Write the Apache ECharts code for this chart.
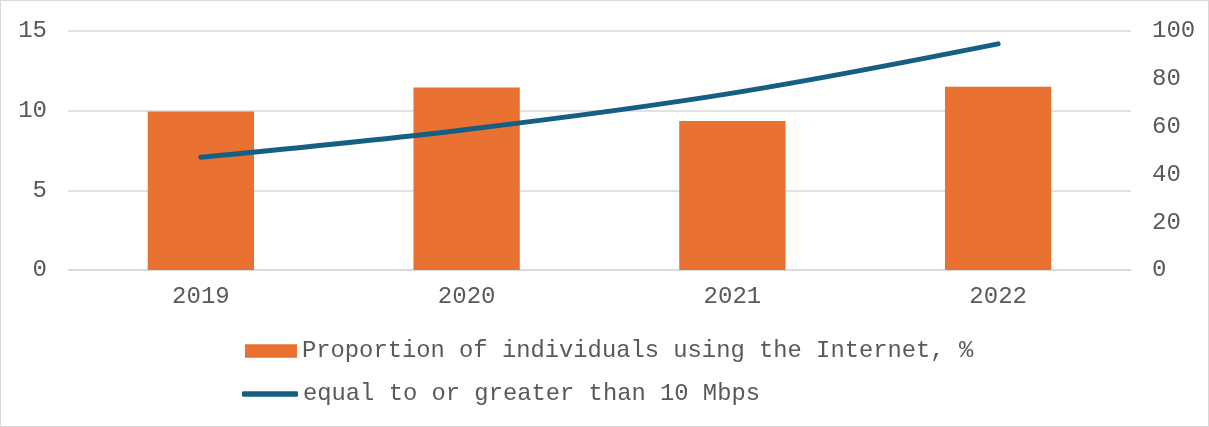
<!DOCTYPE html>
<html>
<head>
<meta charset="utf-8">
<script src="https://cdn.jsdelivr.net/npm/echarts@6/dist/echarts.min.js"></script>
<style>
  html, body { margin: 0; padding: 0; background: #fff; }
  #chart { width: 1209px; height: 427px; box-sizing: border-box; border: 1.5px solid #d9d9d9; }
</style>
</head>
<body>
<div id="chart"></div>
<script>
const categories = ['2019', '2020', '2021', '2022'];
const proportionUsingInternet = [9.95, 11.45, 9.35, 11.5];
const atLeast10Mbps = [47.2, 58.8, 74, 94.6];
const leftTicks = { min: 0, max: 15, interval: 5 };
const rightTicks = { min: 0, max: 100, interval: 20 };
const seriesNames = ['Proportion of individuals using the Internet, %', 'equal to or greater than 10 Mbps'];

const font = 'Liberation Mono, Courier New, monospace';
const textColor = '#595959';
const fs = 24;
const chart = echarts.init(document.getElementById('chart'), null, { renderer: 'canvas' });
chart.setOption({
  animation: false,
  textStyle: { fontFamily: font },
  grid: { left: 67, right: 77, top: 30, bottom: 156 },
  legend: [
    {
      left: 244, top: 338, padding: 0,
      itemWidth: 52, itemHeight: 13.5,
      textStyle: { fontFamily: font, fontSize: 23.8, color: textColor },
      data: [{ name: seriesNames[0], icon: 'rect' }]
    },
    {
      left: 241, top: 381, padding: 0,
      itemWidth: 56, itemHeight: 5.5,
      textStyle: { fontFamily: font, fontSize: 23.8, color: textColor },
      data: [{ name: seriesNames[1], icon: 'roundRect', itemStyle: { color: '#156082' } }]
    }
  ],
  xAxis: {
    type: 'category',
    data: categories,
    axisLine: { show: true, lineStyle: { color: '#d9d9d9', width: 1.5 } },
    axisTick: { show: false },
    axisLabel: { fontFamily: font, fontSize: fs, color: textColor, margin: 15 }
  },
  yAxis: [
    {
      type: 'value',
      min: leftTicks.min, max: leftTicks.max, interval: leftTicks.interval,
      axisLine: { show: false }, axisTick: { show: false },
      splitLine: { lineStyle: { color: '#d9d9d9', width: 1.5 } },
      axisLabel: { fontFamily: font, fontSize: fs, color: textColor, margin: 21 }
    },
    {
      type: 'value',
      min: rightTicks.min, max: rightTicks.max, interval: rightTicks.interval,
      axisLine: { show: false }, axisTick: { show: false },
      splitLine: { show: false },
      axisLabel: { fontFamily: font, fontSize: fs, color: textColor, margin: 21 }
    }
  ],
  series: [
    {
      name: seriesNames[0],
      type: 'bar',
      yAxisIndex: 0,
      data: proportionUsingInternet,
      barWidth: '40%',
      itemStyle: { color: '#E97132' }
    },
    {
      name: seriesNames[1],
      type: 'line',
      yAxisIndex: 1,
      data: atLeast10Mbps,
      smooth: 0.35,
      symbol: 'none',
      lineStyle: { color: '#156082', width: 5, cap: 'round' },
      itemStyle: { color: '#156082' }
    }
  ]
});
</script>
</body>
</html>
